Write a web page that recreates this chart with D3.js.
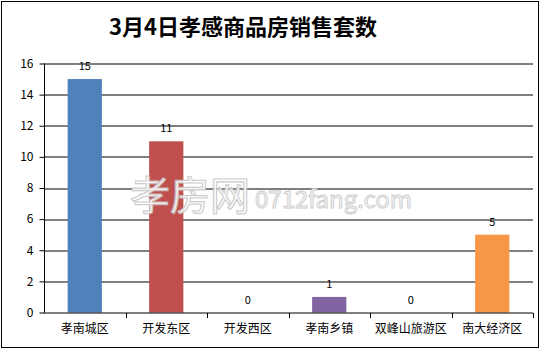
<!DOCTYPE html>
<html>
<head>
<meta charset="utf-8">
<script src="https://cdn.jsdelivr.net/npm/d3@7"></script>
<style>
  body { margin: 0; background: #fff; }
  svg { display: block; }
  text { font-family: "Noto Sans CJK SC", "DejaVu Sans", sans-serif; }
</style>
</head>
<body>
<div id="chart"></div>
<script>
// data
const titleText = '3月4日孝感商品房销售套数';
const districts = ['孝南城区', '开发东区', '开发西区', '孝南乡镇', '双峰山旅游区', '南大经济区'];
const sales = [15, 11, 0, 1, 0, 5];
const barColors = ['#4F81BD', '#C0504D', '#9BBB59', '#8064A2', '#4BACC6', '#F79646'];
const yTicks = [0, 2, 4, 6, 8, 10, 12, 14, 16];

// sizes
const width = 540;
const height = 351;
const margin = { top: 63.5, right: 7, bottom: 38.5, left: 44 };
const innerWidth = width - margin.left - margin.right;
const innerHeight = height - margin.top - margin.bottom;

const svg = d3.select('#chart').append('svg')
  .attr('width', width)
  .attr('height', height);

// outer frame
svg.append('rect')
  .attr('x', 1.5).attr('y', 1.5)
  .attr('width', width - 3).attr('height', height - 5)
  .attr('fill', '#fff')
  .attr('stroke', '#000')
  .attr('stroke-width', 1);

svg.append('text')
  .text(titleText)
  .attr('x', 243)
  .attr('y', 35)
  .attr('text-anchor', 'middle')
  .attr('font-size', 22)
  .attr('font-weight', 'bold')
  .attr('fill', '#000');

const xScale = d3.scaleBand()
  .domain(districts)
  .range([0, innerWidth])
  .paddingInner(0.58)
  .paddingOuter(0.29);

const xBounds = d3.scaleBand()
  .domain(districts)
  .range([0, innerWidth]);

const yScale = d3.scaleLinear()
  .domain([0, 16])
  .range([innerHeight, 0]);

const g = svg.append('g')
  .attr('transform', `translate(${margin.left}, ${margin.top})`);

// gridlines
g.selectAll('.grid').data(yTicks.filter(d => d > 0))
  .enter().append('line')
  .attr('x1', 0).attr('x2', innerWidth)
  .attr('y1', d => Math.round(yScale(d)) + 0.5)
  .attr('y2', d => Math.round(yScale(d)) + 0.5)
  .attr('stroke', '#000');

// watermark
const wm = svg.append('g').attr('opacity', 0.9);
wm.append('text')
  .text('孝房网')
  .attr('x', 130).attr('y', 210)
  .attr('font-size', 40)
  .attr('fill', '#fff')
  .attr('stroke', '#c8c8c8')
  .attr('stroke-width', 1.2);
wm.append('text')
  .text('0712fang.com')
  .attr('x', 255).attr('y', 208)
  .attr('font-size', 24)
  .attr('font-family', '"DejaVu Serif", serif')
  .attr('fill', '#fff')
  .attr('stroke', '#c8c8c8')
  .attr('stroke-width', 1);

// bars
g.selectAll('.bar').data(sales)
  .enter().append('rect')
  .attr('x', (d, i) => xScale(districts[i]))
  .attr('y', d => yScale(d))
  .attr('width', xScale.bandwidth())
  .attr('height', d => innerHeight - yScale(d))
  .attr('fill', (d, i) => barColors[i]);

// value labels
g.selectAll('.val').data(sales)
  .enter().append('text')
  .text(d => d)
  .attr('x', (d, i) => xScale(districts[i]) + xScale.bandwidth() / 2)
  .attr('y', d => yScale(d) - 9)
  .attr('text-anchor', 'middle')
  .attr('font-size', 11)
  .attr('fill', '#000');

// y axis
const yAxis = d3.axisLeft(yScale).tickValues(yTicks).tickSize(5).tickPadding(6);
g.append('g')
  .attr('transform', 'translate(0.5, 0)')
  .call(yAxis)
  .call(a => a.selectAll('line, path').attr('stroke', '#000'))
  .call(a => a.select('.domain').attr('d', `M0,${innerHeight}V0`))
  .call(a => a.selectAll('text').attr('font-size', 12).attr('fill', '#000'));

// x axis
const xAxisG = g.append('g')
  .attr('transform', `translate(0, ${Math.round(innerHeight) + 0.5})`);
xAxisG.append('line')
  .attr('x1', 0).attr('x2', innerWidth)
  .attr('stroke', '#000');
xAxisG.selectAll('.tk').data(districts.slice(1).concat(['end']))
  .enter().append('line')
  .attr('x1', (d, i) => Math.round(xBounds.step() * (i + 1)) + 0.5)
  .attr('x2', (d, i) => Math.round(xBounds.step() * (i + 1)) + 0.5)
  .attr('y1', 0).attr('y2', 5)
  .attr('stroke', '#000');
xAxisG.selectAll('.lbl').data(districts)
  .enter().append('text')
  .text(d => d)
  .attr('x', d => xBounds(d) + xBounds.bandwidth() / 2)
  .attr('y', 20)
  .attr('text-anchor', 'middle')
  .attr('font-size', 12)
  .attr('fill', '#000');
</script>
</body>
</html>
